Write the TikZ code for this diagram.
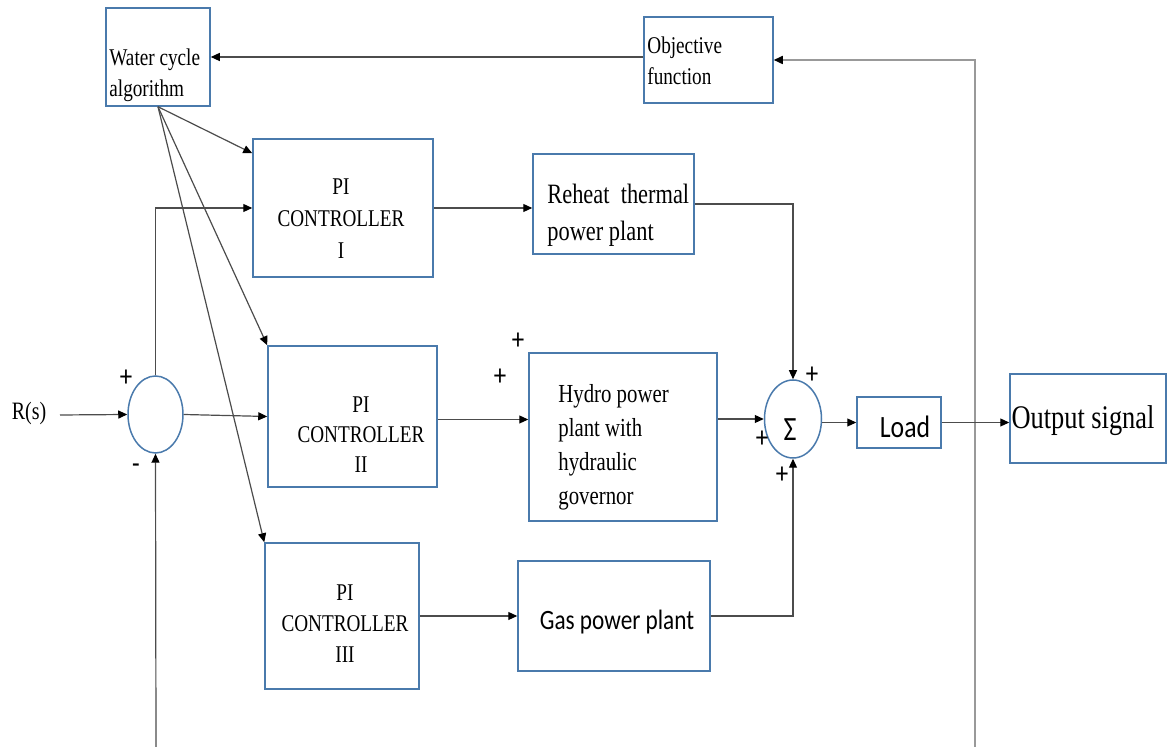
\documentclass[tikz,border=0pt]{standalone}
\usepackage{fontspec}
\setmainfont{Liberation Serif}[FakeStretch=0.8]
\newfontfamily\calibri{Carlito}[FakeStretch=0.83]
\usetikzlibrary{arrows.meta, calc, shapes.geometric}

\definecolor{boxblue}{RGB}{74,122,172}

\begin{document}
\begin{tikzpicture}[
    x=0.5pt, y=-0.5pt,
    block/.style 2 args={draw=boxblue, line width=0.75pt, inner sep=0pt, minimum width=#1, minimum height=#2},
    summer/.style 2 args={ellipse, draw=boxblue, line width=0.75pt, inner sep=0pt, minimum width=#1, minimum height=#2},
    wire/.style={draw=black!70, line width=0.6pt},
    arr/.style={wire, -{Triangle[length=4.5pt, width=4pt, color=black]}},
    txt/.style={inner sep=0pt, font=\fontsize{12}{16}\selectfont},
    sign/.style={inner sep=0pt, font=\calibri\fontsize{15}{15}\selectfont}
]
    \useasboundingbox (0,0) rectangle (1174,747);

    % Blocks
    \node [block={52pt}{49pt}] (wca) at (158,57) {};
    \node [block={64.5pt}{43pt}] (obj) at (708.5,60) {};
    \node [block={90pt}{69pt}] (pi1) at (343,208) {};
    \node [block={80.5pt}{50pt}] (reheat) at (613.5,204) {};
    \node [block={84.5pt}{70.5pt}] (pi2) at (352.5,416.5) {};
    \node [block={94pt}{84pt}] (hydro) at (623,437) {};
    \node [block={77pt}{73pt}] (pi3) at (342,616) {};
    \node [block={96pt}{55pt}] (gas) at (614,616) {};
    \node [block={42pt}{25.5pt}] (load) at (899,422.5) {};
    \node [block={78pt}{44.5pt}] (out) at (1088,418.5) {};
    \node [summer={27.5pt}{38.5pt}] (cmp) at (155.5,414.5) {};
    \node [summer={28.5pt}{39pt}] (sum) at (793,419) {};

    % Texts
    \node [txt, anchor=west, align=left, font=\fontsize{12}{15.5}\selectfont] (wcatext) at (109,75) {Water cycle\\algorithm};
    \node [txt, anchor=west, align=left, font=\fontsize{12}{15.5}\selectfont] (objtext) at (647,61) {Objective\\function};
    \node [txt, align=center] (pi1text) at (341,219) {PI\\CONTROLLER\\I};
    \node [txt, align=center, font=\fontsize{12}{15}\selectfont] (pi2text) at (361,435) {PI\\CONTROLLER\\II};
    \node [txt, align=center, font=\fontsize{12}{15.5}\selectfont] (pi3text) at (345,624) {PI\\CONTROLLER\\III};
    \node [txt, anchor=west, align=left, font=\fontsize{14}{18.5}\selectfont] (reheattext) at (547,215) {Reheat\ \ thermal\\power plant};
    \node [txt, anchor=west, align=left, font=\fontsize{13}{17}\selectfont] (hydrotext) at (558,447) {Hydro power\\plant with\\hydraulic\\governor};
    \node [txt, font=\calibri\fontsize{14}{14}\selectfont] (gastext) at (617,622) {Gas power plant};
    \node [txt, font=\calibri\fontsize{15.5}{15.5}\selectfont] (loadtext) at (905,427) {Load};
    \node [txt, font=\fontsize{16.5}{16.5}\selectfont] (outtext) at (1083,421) {Output signal};
    \node [txt, font=\fontsize{12.5}{12.5}\selectfont] (rtext) at (29,413) {R(s)};
    \node [txt, font=\calibri\fontsize{17}{17}\selectfont] (sigma) at (790,430) {Σ};

    % Signs
    \foreach \px/\py [count=\i] in {126/378, 518/341, 500/377, 812/375, 762/439, 782/475} {
        \node [sign] (plus\i) at (\px,\py) {+};
    }
    \node [sign] (minus) at (136,469) {-};

    % Free ends
    \coordinate (rin) at (60,415);
    \coordinate (fbot) at (156,747);
    \coordinate (fright) at (975,747);

    % Connectors
    \draw [arr] (rin) -- (cmp.west);
    \draw [arr] (cmp.east) -- (pi2.west);
    \draw [arr] (cmp.north) |- (pi1.west);
    \draw [arr] (fbot) -- (cmp.south);
    \draw [arr] (wca.south) -- ($(pi1.north west)+(0,15)$);
    \draw [arr] (wca.south) -- (pi2.north west);
    \draw [arr] (wca.south) -- (pi3.north west);
    \draw [arr] (wca.east -| obj.west) -- (wca.east);
    \draw [arr, draw=black!40, line width=0.8pt] (fright) |- (obj.east);
    \draw [arr] (pi1.east) -- (pi1.east -| reheat.west);
    \draw [arr] (reheat.east) -| (sum.north);
    \draw [arr] ($(pi2.east)+(0,3)$) -- ($(pi2.east -| hydro.west)+(0,3)$);
    \draw [arr] (sum.west -| hydro.east) -- (sum.west);
    \draw [arr] (pi3.east) -- (gas.west);
    \draw [arr] (gas.east) -| (sum.south);
    \draw [arr] (load.west -| sum.east) -- (load.west);
    \draw [arr] (load.east) -- (load.east -| out.west);

\end{tikzpicture}
\end{document}
